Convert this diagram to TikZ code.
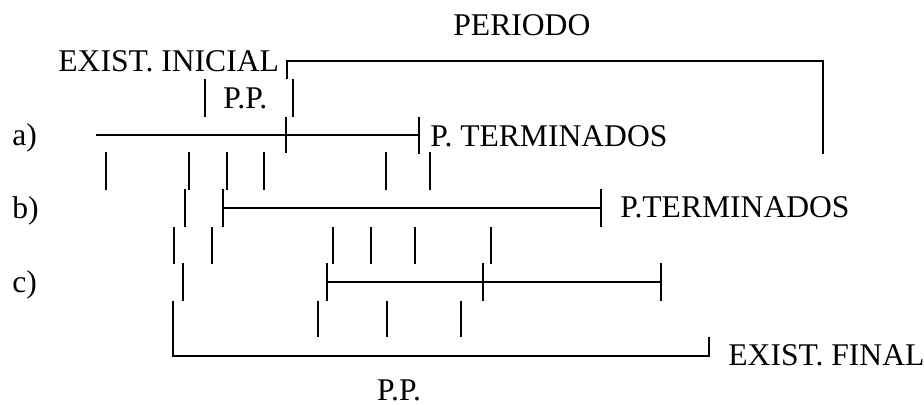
\documentclass[tikz,border=0pt]{standalone}
\usepackage{fontspec}
\setmainfont{Liberation Serif}
\tikzset{
  lbl/.style={anchor=base west,inner sep=0pt,font=\fontsize{15.8}{18}\selectfont},
  bar/.style={line width=0.9pt},
  tick/.style={line width=0.9pt}
}
\begin{document}
\begin{tikzpicture}[x=0.5pt,y=-0.5pt]
\useasboundingbox (0,0) rectangle (924,404);

\node[lbl] (periodo) at (453,35) {PERIODO};
\node[lbl] (inicial) at (58,71.7) {EXIST. INICIAL};
\node[lbl] (pptop) at (223,108) {P.P.};
\node[lbl] (rowa) at (12,145) {a)};
\node[lbl] (terma) at (430,146) {P. TERMINADOS};
\node[lbl] (rowb) at (12,218) {b)};
\node[lbl] (termb) at (620,217.5) {P.TERMINADOS};
\node[lbl] (rowc) at (12,292.7) {c)};
\node[lbl] (final) at (728,365.7) {EXIST. FINAL};
\node[lbl] (ppbot) at (376.7,400) {P.P.};

\coordinate (per1) at (287,79);
\coordinate (per2) at (287,61);
\coordinate (per3) at (823,61);
\coordinate (per4) at (823,154);
\draw[bar] (per1) -- (per2) -- (per3) -- (per4);
\draw[tick] (292.7,79) -- (292.7,117);
\draw[tick] (204.7,79) -- (204.7,117);

\coordinate (a1) at (96,135);
\coordinate (a2) at (419,135);
\draw[bar] (a1) -- (a2);
\draw[tick] (285.7,117) -- (285.7,153);
\draw[tick] (419,117) -- (419,154);

\draw[tick] (106,152) -- (106,190);
\draw[tick] (189.3,152) -- (189.3,190);
\draw[tick] (226.7,152) -- (226.7,190);
\draw[tick] (263.7,152) -- (263.7,190);
\draw[tick] (385.7,152) -- (385.7,190);
\draw[tick] (430,152) -- (430,190);

\coordinate (b1) at (222.7,208);
\coordinate (b2) at (600.7,208);
\draw[bar] (b1) -- (b2);
\draw[tick] (185,189) -- (185,227);
\draw[tick] (222.7,189) -- (222.7,227);
\draw[tick] (600.7,189) -- (600.7,227);

\draw[tick] (174,227) -- (174,264);
\draw[tick] (212,227) -- (212,264);
\draw[tick] (333.3,227) -- (333.3,264);
\draw[tick] (370.7,227) -- (370.7,264);
\draw[tick] (415.3,227) -- (415.3,264);
\draw[tick] (491,227) -- (491,264);

\coordinate (c1) at (327,281.7);
\coordinate (c2) at (661,281.7);
\draw[bar] (c1) -- (c2);
\draw[tick] (182.7,263.3) -- (182.7,300.7);
\draw[tick] (327,263.3) -- (327,300.7);
\draw[tick] (483,263.3) -- (483,300.7);
\draw[tick] (661,263.3) -- (661,300.7);

\draw[tick] (317.7,300.7) -- (317.7,337.3);
\draw[tick] (386.7,300.7) -- (386.7,337.3);
\draw[tick] (461,300.7) -- (461,337.3);

\coordinate (f1) at (173.3,300.7);
\coordinate (f2) at (173.3,356);
\coordinate (f3) at (708.7,356);
\coordinate (f4) at (708.7,337.3);
\draw[bar] (f1) -- (f2) -- (f3) -- (f4);
\end{tikzpicture}
\end{document}
